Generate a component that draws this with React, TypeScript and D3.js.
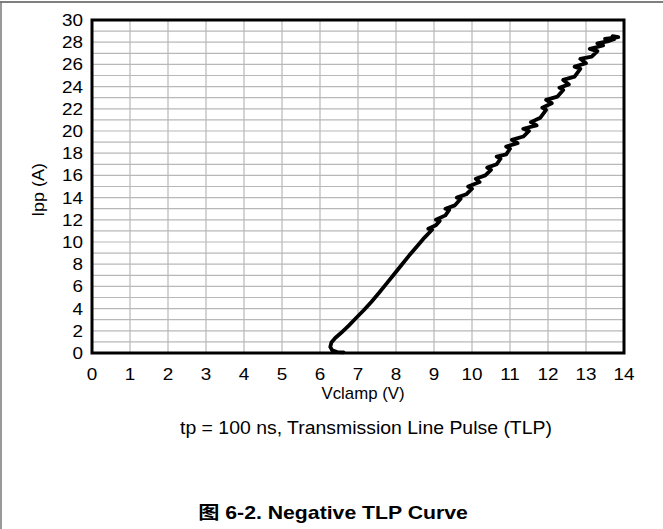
import React from "react";
import * as d3 from "d3";

const xTicks = [0, 1, 2, 3, 4, 5, 6, 7, 8, 9, 10, 11, 12, 13, 14];
const yTicks = [0, 2, 4, 6, 8, 10, 12, 14, 16, 18, 20, 22, 24, 26, 28, 30];
const yGrid = d3.range(0, 31, 1);

const vclamp = [6.62, 6.45, 6.32, 6.27, 6.3, 6.4, 6.55, 6.75, 6.95, 7.15, 7.35, 7.55, 7.75, 7.95, 8.15, 8.35, 8.55, 8.75, 8.95, 8.85, 9.05, 9.15, 9.05, 9.3, 9.4, 9.3, 9.55, 9.7, 9.6, 9.85, 10.0, 9.9, 10.2, 10.1, 10.35, 10.5, 10.4, 10.65, 10.75, 10.65, 10.9, 11.0, 10.9, 11.2, 11.05, 11.35, 11.5, 11.35, 11.7, 11.55, 11.8, 11.95, 11.85, 12.1, 11.95, 12.25, 12.4, 12.3, 12.55, 12.4, 12.7, 12.85, 12.7, 13.0, 12.85, 13.15, 13.3, 13.1, 13.45, 13.3, 13.6, 13.75, 13.5, 13.85, 13.7];
const ipp = [0.05, 0.08, 0.25, 0.55, 0.95, 1.35, 1.8, 2.45, 3.15, 3.85, 4.6, 5.4, 6.25, 7.1, 7.95, 8.8, 9.6, 10.4, 11.1, 11.2, 11.5, 11.9, 12.0, 12.4, 12.9, 13.0, 13.3, 13.9, 14.0, 14.3, 14.8, 15.0, 15.4, 15.7, 16.0, 16.5, 16.7, 17.0, 17.5, 17.7, 17.9, 18.4, 18.6, 18.9, 19.2, 19.5, 20.0, 20.2, 20.5, 20.8, 21.2, 21.9, 22.1, 22.5, 22.8, 23.1, 23.7, 23.9, 24.2, 24.6, 24.9, 25.6, 25.8, 26.1, 26.5, 26.7, 27.2, 27.4, 27.7, 27.9, 28.1, 28.3, 28.3, 28.45, 28.55];

const W = 663, H = 529;
const L = 92, R = 624, T = 20, B = 353;
const FONT = "'Liberation Sans', Arial, sans-serif";

function SText({ x, y, sx, size, anchor, bold, children }: any) {
  return (
    <text transform={`translate(${x},${y}) scale(${sx},1)`} textAnchor={anchor || "middle"} fontFamily={FONT}
      fontSize={size} fontWeight={bold ? "bold" : "normal"} fill="#000">{children}</text>
  );
}

export default function App() {
  const x = d3.scaleLinear().domain([0, 14]).range([L, R]);
  const y = d3.scaleLinear().domain([0, 30]).range([B, T]);
  const pts: [number, number][] = vclamp.map((v, i) => [v, ipp[i]]);
  const line = d3.line<[number, number]>().x(d => x(d[0])).y(d => y(d[1]));
  return (
    <svg width={W} height={H} style={{ position: "absolute", left: 0, top: 0, background: "#fff" }}>
      <line x1={0} x2={W} y1={2} y2={2} stroke="#555" strokeWidth={1.5} />
      <line x1={1} x2={1} y1={2} y2={H} stroke="#777" strokeWidth={1.5} />
      {xTicks.map(t => (
        <line key={"vx" + t} x1={x(t)} x2={x(t)} y1={T} y2={B} stroke="#b8b8b8" strokeWidth={1.2} />
      ))}
      {yGrid.map(t => (
        <line key={"hy" + t} x1={L} x2={R} y1={y(t)} y2={y(t)} stroke="#b8b8b8" strokeWidth={1.2} />
      ))}
      <path d={line(pts) || ""} fill="none" stroke="#000" strokeWidth={3.8} strokeLinejoin="round" strokeLinecap="round" />
      <rect x={L} y={T} width={R - L} height={B - T} fill="none" stroke="#000" strokeWidth={3} />
      {xTicks.map(t => (
        <SText key={"xt" + t} x={x(t)} y={380} sx={1.18} size={16}>{t}</SText>
      ))}
      {yTicks.map(t => (
        <SText key={"yt" + t} x={83} y={y(t) + 6} sx={1.18} size={16} anchor="end">{t}</SText>
      ))}
      <SText x={363} y={399} sx={1.05} size={16}>Vclamp (V)</SText>
      <text transform={`translate(44,${190}) rotate(-90) scale(1.12,1)`} textAnchor="middle" fontFamily={FONT} fontSize={16} fill="#000">Ipp (A)</text>
      <SText x={366} y={434} sx={1.08} size={18}>tp = 100 ns, Transmission Line Pulse (TLP)</SText>
      <text transform={`translate(333,519) scale(1.18,1)`} textAnchor="middle" fontFamily={FONT} fontSize={18} fontWeight="bold" fill="#000">
        <tspan fontFamily="'Noto Sans CJK SC', sans-serif">图</tspan> 6-2. Negative TLP Curve
      </text>
    </svg>
  );
}
